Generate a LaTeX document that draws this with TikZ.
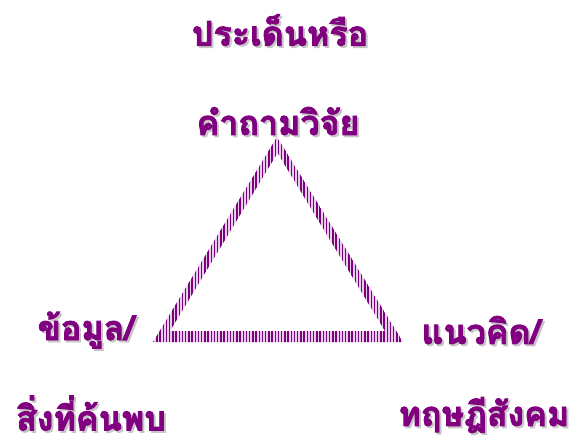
\documentclass[tikz,border=0pt]{standalone}
\usepackage{fontspec}
\newfontfamily\thaifont[Script=Thai, BoldFeatures={FakeBold=2.5}]{Loma}
\usetikzlibrary{patterns.meta}
\definecolor{deeppurple}{RGB}{128,0,128}
\definecolor{stripebg}{RGB}{230,205,235}
\newcommand{\shadowed}[1]{\makebox[0pt][l]{\hspace{2pt}\raisebox{-2pt}{\textcolor{gray!45}{#1}}}#1}

\begin{document}
\begin{tikzpicture}[x=1pt, y=-1pt,
    label/.style={font=\thaifont\bfseries\fontsize{34}{40}\selectfont, text=deeppurple, inner sep=0pt},
    stripes/.style={even odd rule, fill=stripebg, postaction={pattern={Lines[angle=90, distance=3.2pt, line width=1.4pt]}, pattern color=deeppurple}}
]
\useasboundingbox (0,0) rectangle (576,444);

% ============ TRIANGLE ============
\path[stripes] (277,137) -- (153,342) -- (403,342) -- cycle
               (277.5,153) -- (170,331) -- (385,331) -- cycle;

% ============ LABELS ============
\node[label] (topa) at (280,31) {\shadowed{ประเด็นหรือ}};
\node[label] (topb) at (278,122) {\shadowed{คำถามวิจัย}};

\node[label] (lefta) at (86,331) {\shadowed{ข้อมูล/}};
\node[label] (leftb) at (91,414) {\shadowed{สิ่งที่ค้นพบ}};

\node[label] (righta) at (481,331) {\shadowed{แนวคิด/}};
\node[label] (rightb) at (484,416) {\shadowed{ทฤษฎีสังคม}};

\end{tikzpicture}
\end{document}
